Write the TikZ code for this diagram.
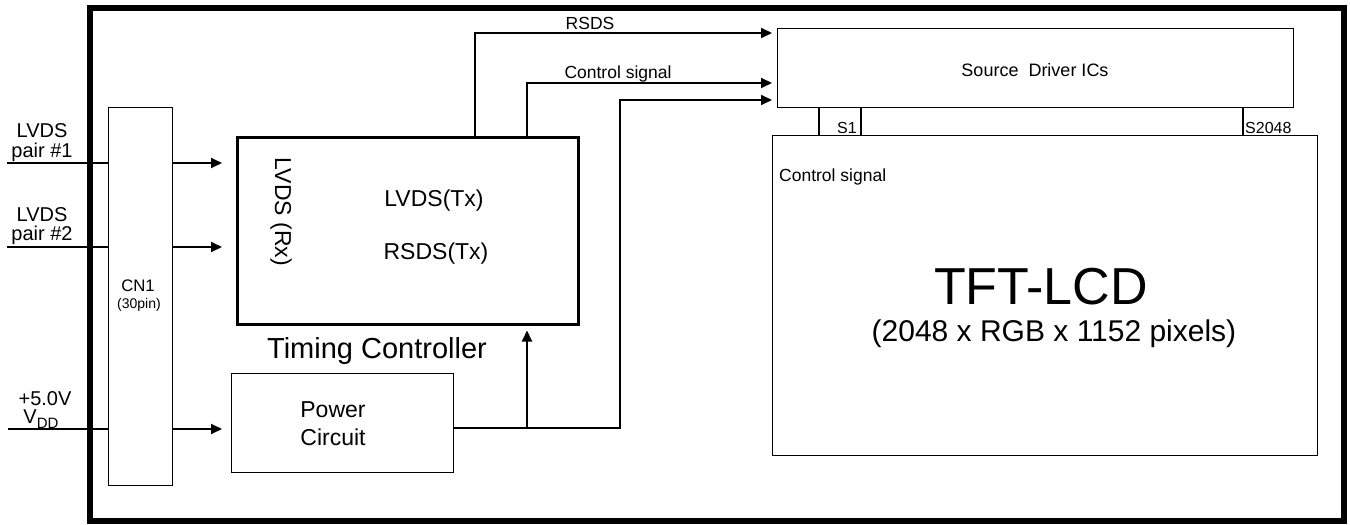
\documentclass[tikz,border=0pt]{standalone}
\usepackage{fontspec}
\setmainfont{Liberation Sans}
\usetikzlibrary{arrows.meta}

\begin{document}
\begin{tikzpicture}[x = 1pt, y = -1pt,
        box/.style = {draw, line width = 1pt, inner sep = 0pt, anchor = north west},
        sig/.style = {line width = 2pt},
        arr/.style = {sig, -{Triangle[length = 11pt, width = 10pt]}},
        fs/.style = {font = \fontsize{#1}{#1}\selectfont, inner sep = 0pt, anchor = base}]
        \useasboundingbox (0,0) rectangle (1350,525);
        \draw[line width = 6pt] (90,8) rectangle (1344,521);

        \node[box, minimum width = 64, minimum height = 378] (cn1) at (108,107) {};
        \node[box, line width = 2.5pt, minimum width = 341, minimum height = 187] (tc) at (236,136) {};
        \node[box, minimum width = 222, minimum height = 99] (pwr) at (231,373) {};
        \node[box, minimum width = 516, minimum height = 79] (src) at (777,28) {};
        \node[box, minimum width = 545, minimum height = 320] (lcd) at (772,135) {};

        \coordinate (in1) at (7,163);
        \coordinate (in2) at (7,247);
        \coordinate (in3) at (8,429);
        \coordinate (rsds) at (475,33);
        \coordinate (ctl) at (527,83);
        \coordinate (pwrout) at (620,428);
        \coordinate (pwrin) at (620,100);

        \draw[sig] (in1) -- (in1 -| cn1.west);
        \draw[sig] (in2) -- (in2 -| cn1.west);
        \draw[sig] (in3) -- (in3 -| cn1.west);
        \draw[arr, shorten > = 14] (in1 -| cn1.east) -- (in1 -| tc.west);
        \draw[arr, shorten > = 14] (in2 -| cn1.east) -- (in2 -| tc.west);
        \draw[arr, shorten > = 9] (in3 -| cn1.east) -- (in3 -| pwr.west);

        \draw[arr, shorten > = 5] (rsds |- tc.north) |- (rsds -| src.west);
        \draw[arr, shorten > = 5] (ctl |- tc.north) |- (ctl -| src.west);
        \draw[arr, shorten > = 5] (pwrout -| pwr.east) -| (pwrin) -- (pwrin -| src.west);
        \draw[arr, shorten > = 5] (ctl |- pwrout) -- (ctl |- tc.south);

        \foreach \px in {819, 861, 1243}
          \draw[line width = 1.5pt] (\px,0 |- src.south) -- (\px,0 |- lcd.north);

        \node[fs = 20] (lvds1) at (42,137) {LVDS};
        \node[fs = 20] (pair1) at (42,157) {pair \#1};
        \node[fs = 20] (lvds2) at (42,221) {LVDS};
        \node[fs = 20] (pair2) at (42,240) {pair \#2};
        \node[fs = 20] (vin) at (45,405) {+5.0V};
        \node[fs = 20] (vdd) at (41,423) {V\raisebox{-5pt}{\fontsize{15}{15}\selectfont DD}};
        \node[fs = 16.7] (cn1lbl) at (138,291) {CN1};
        \node[fs = 14] (pinlbl) at (139,308) {(30pin)};

        \node[fs = 23, rotate = -90] (lvdsrx) at (275,212) {LVDS (Rx)};
        \node[fs = 23] (lvdstx) at (434,206) {LVDS(Tx)};
        \node[fs = 23] (rsdstx) at (436,259) {RSDS(Tx)};
        \node[fs = 29] (tclbl) at (377,358) {Timing Controller};
        \node[fs = 23] (pwrlbl) at (333,417) {Power};
        \node[fs = 23] (circlbl) at (333,445) {Circuit};

        \node[fs = 17.5] (rsdslbl) at (590,29) {RSDS};
        \node[fs = 17.5] (ctllbl) at (618,78) {Control signal};
        \node[fs = 18] (srclbl) at (1035,76) {Source\ \ Driver ICs};
        \node[fs = 16] (s1) at (847,133) {S1};
        \node[fs = 16, anchor = base west] (s2048) at (1245,133) {S2048};
        \node[fs = 17.5, anchor = base west] (lcdctl) at (779,181) {Control signal};
        \node[fs = 52] (lcdlbl) at (1041,304) {TFT-LCD};
        \node[fs = 30] (pixlbl) at (1054,341) {(2048 x RGB x 1152 pixels)};
      \end{tikzpicture}
\end{document}
